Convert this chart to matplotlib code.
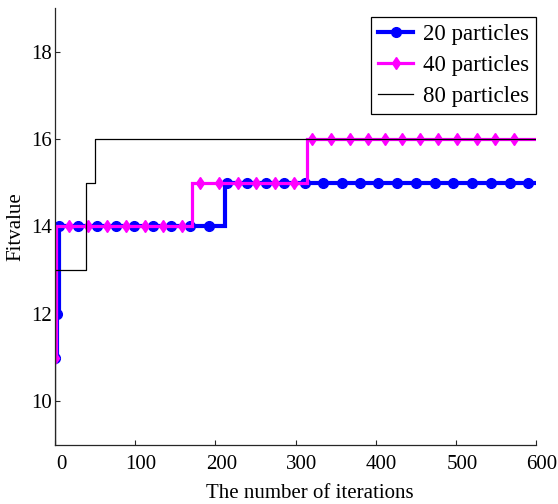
import numpy as np
import matplotlib
matplotlib.use("Agg")
import matplotlib.pyplot as plt
from matplotlib.lines import Line2D
import matplotlib.transforms as mtransforms

plt.rcParams["font.family"] = ["Liberation Serif", "DejaVu Serif"]

# step change points of each run (iteration, fitness value)
iters_20 = [0, 2, 5, 212, 600]
fit_20 = [11, 12, 14, 15, 15]
iters_40 = [0, 1, 171, 314, 598]
fit_40 = [11, 14, 15, 16, 16]
iters_80 = [0, 0, 39, 50, 600]
fit_80 = [8, 13, 15, 16, 16]

# iterations where markers are drawn
marks_20 = [0, 2, 5, 29, 52, 76, 99, 122, 145, 168, 192, 215, 239, 263, 286,
            312, 334, 358, 380, 403, 426, 450, 474, 496, 520, 544, 567, 590]
marks_40 = [0, 17, 41, 65, 88, 112, 135, 158, 181, 204, 228, 251, 274, 298,
            320, 344, 368, 390, 412, 433, 455, 478, 502, 526, 549, 572]

labels = ["20 particles", "40 particles", "80 particles"]
xticks = [0, 100, 200, 300, 400, 500, 600]
yticks = [10, 12, 14, 16, 18]


def step_value(xs, ys, at):
    idx = np.searchsorted(xs, at, side="right") - 1
    return np.asarray(ys)[idx]


fig = plt.figure(figsize=(5.58, 5.04), dpi=100)
ax = fig.add_axes([55 / 558, 1 - 445 / 504, 481 / 558, 437 / 504])

blue, pink = "#0000ff", "#ff00ff"

ax.plot(iters_20, fit_20, drawstyle="steps-post", color=blue, lw=3.0,
        solid_joinstyle="miter")
ax.plot(marks_20, step_value(iters_20, fit_20, marks_20), ls="none",
        marker="o", ms=7, color=blue)

ax.plot(iters_40, fit_40, drawstyle="steps-post", color=pink, lw=2.3,
        solid_joinstyle="miter")
ax.plot(marks_40, step_value(iters_40, fit_40, marks_40), ls="none",
        marker="d", ms=6.5, color=pink)

ax.plot(iters_80, fit_80, drawstyle="steps-post", color="black", lw=0.9)

ax.set_xlim(0, 600)
ax.set_ylim(9, 19)
ax.set_xticks(xticks)
ax.set_yticks(yticks)
ax.spines["top"].set_visible(False)
ax.spines["right"].set_visible(False)
for s in ("left", "bottom"):
    ax.spines[s].set_color("#262626")
    ax.spines[s].set_linewidth(0.9)
ax.tick_params(direction="in", length=3.5, width=0.8, labelsize=15,
               colors="#262626", labelcolor="black")
ax.tick_params(axis="x", pad=7)
ax.tick_params(axis="y", pad=2)

# tick labels in the original sit a few px right of their ticks
shift = mtransforms.ScaledTranslation(6 / 100, 0, fig.dpi_scale_trans)
for lab in ax.get_xticklabels():
    lab.set_transform(lab.get_transform() + shift)

ax.set_xlabel("The number of iterations", fontsize=15, labelpad=0)
ax.xaxis.set_label_coords(0.53, -0.09)
ax.set_ylabel("Fitvalue", fontsize=15, labelpad=4)

handles = [
    Line2D([], [], color=blue, lw=3.0, marker="o", ms=7),
    Line2D([], [], color=pink, lw=2.3, marker="d", ms=6.5),
    Line2D([], [], color="black", lw=0.9),
]
leg = ax.legend(handles, labels, loc="upper right",
                bbox_to_anchor=(1.0, 1 - 9 / 437), borderaxespad=0,
                fontsize=16.5, numpoints=1, fancybox=False, framealpha=1,
                handlelength=1.55, handletextpad=0.4, labelspacing=0.42,
                borderpad=0.32)
leg.get_frame().set_edgecolor("black")
leg.get_frame().set_linewidth(0.9)

fig.savefig("out.png", dpi=100)
